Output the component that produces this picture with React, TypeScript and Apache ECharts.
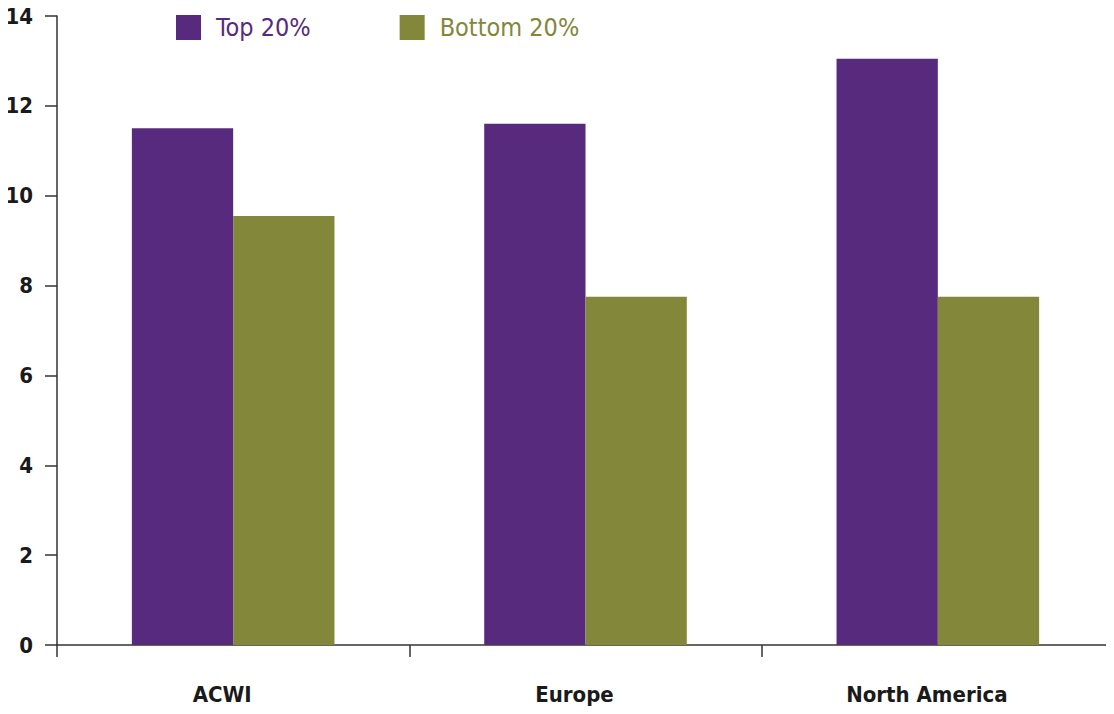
import React, { useEffect, useRef } from "react";
import * as echarts from "echarts";

const categories = ["ACWI", "Europe", "North America"];
const top20 = [11.5, 11.6, 13.05];
const bottom20 = [9.55, 7.75, 7.75];
const seriesNames = ["Top 20%", "Bottom 20%"];
const yTicks = { min: 0, max: 14, interval: 2 };

const PURPLE = "#582A7E";
const GREEN = "#82873A";
const FONT = "DejaVu Sans Condensed";

export default function App() {
  const ref = useRef<HTMLDivElement>(null);
  useEffect(() => {
    if (!ref.current) return;
    const chart = echarts.init(ref.current, undefined, { renderer: "svg" });
    chart.setOption({
      animation: false,
      backgroundColor: "#ffffff",
      textStyle: { fontFamily: FONT },
      legend: {
        left: 176,
        top: 15,
        padding: 0,
        itemWidth: 25,
        itemHeight: 25,
        itemGap: 89,
        icon: "rect",
        textStyle: { fontSize: 25, fontFamily: FONT, padding: [0, 0, 0, 10] },
        data: [
          { name: seriesNames[0], textStyle: { color: PURPLE } },
          { name: seriesNames[1], textStyle: { color: GREEN } },
        ],
      },
      grid: { left: 57, right: -3, top: 16, bottom: 69, containLabel: false },
      xAxis: {
        type: "category",
        data: categories,
        axisLine: { show: true, lineStyle: { color: "#333", width: 1.5 } },
        axisTick: { show: true, length: 12, alignWithLabel: false, lineStyle: { color: "#333", width: 1.5 } },
        axisLabel: {
          color: "#1a1a1a",
          fontSize: 22,
          fontWeight: "bold",
          margin: 38,
          fontFamily: FONT,
          padding: [0, 22, 0, 0],
        },
      },
      yAxis: {
        type: "value",
        min: yTicks.min,
        max: yTicks.max,
        interval: yTicks.interval,
        splitLine: { show: false },
        axisLine: { show: true, lineStyle: { color: "#333", width: 1.5 } },
        axisTick: { show: true, length: 12, lineStyle: { color: "#333", width: 1.5 } },
        axisLabel: { color: "#1a1a1a", fontSize: 22, fontWeight: "bold", margin: 24, fontFamily: FONT },
      },
      series: [
        {
          name: seriesNames[0],
          type: "bar",
          data: top20,
          itemStyle: { color: PURPLE },
          barGap: "0%",
          barCategoryGap: "42.5%",
        },
        {
          name: seriesNames[1],
          type: "bar",
          data: bottom20,
          itemStyle: { color: GREEN },
          barGap: "0%",
          barCategoryGap: "42.5%",
        },
      ],
    });
    return () => chart.dispose();
  }, []);
  return <div ref={ref} style={{ width: 1114, height: 714, margin: -8 }} />;
}
